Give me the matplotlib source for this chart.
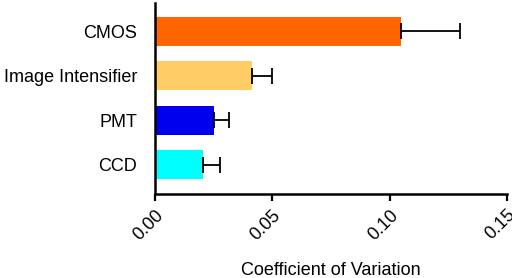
import matplotlib.pyplot as plt

# data
detectors = ['CCD', 'PMT', 'Image Intensifier', 'CMOS']
cv_mean = [0.0203, 0.0253, 0.0413, 0.1047]
cv_err = [0.0074, 0.0064, 0.0084, 0.0255]
bar_colors = ['#00FFFF', '#0000EE', '#FFCC66', '#FF6600']
xticks = [0.00, 0.05, 0.10, 0.15]

plt.rcParams['font.family'] = ['Liberation Sans', 'DejaVu Sans']

fig = plt.figure(figsize=(5.12, 2.78), dpi=100)
ax = fig.add_axes([0.303, 0.302, 0.687, 0.687])

ypos = range(len(detectors))
ax.barh(ypos, cv_mean, height=0.65, color=bar_colors,
        xerr=[[0] * len(cv_err), cv_err],
        error_kw=dict(ecolor='black', elinewidth=1.3, capsize=5.5, capthick=1.3))

ax.set_xlim(0, 0.15)
ax.set_ylim(-0.66, 3.64)
ax.set_yticks(list(ypos))
ax.set_yticklabels(detectors, fontsize=13)
ax.tick_params(axis='y', length=0, pad=13)
ax.set_xticks(xticks)
ax.set_xticklabels([f'{t:.2f}' for t in xticks], rotation=45, ha='right',
                   rotation_mode='anchor', fontsize=13)
ax.tick_params(axis='x', length=5, width=1.6, pad=4)
ax.set_xlabel('Coefficient of Variation', fontsize=13)
ax.xaxis.set_label_coords(0.5, -0.356)

for side in ['top', 'right']:
    ax.spines[side].set_visible(False)
for side in ['left', 'bottom']:
    ax.spines[side].set_linewidth(1.8)

fig.savefig('out.png', dpi=100)
